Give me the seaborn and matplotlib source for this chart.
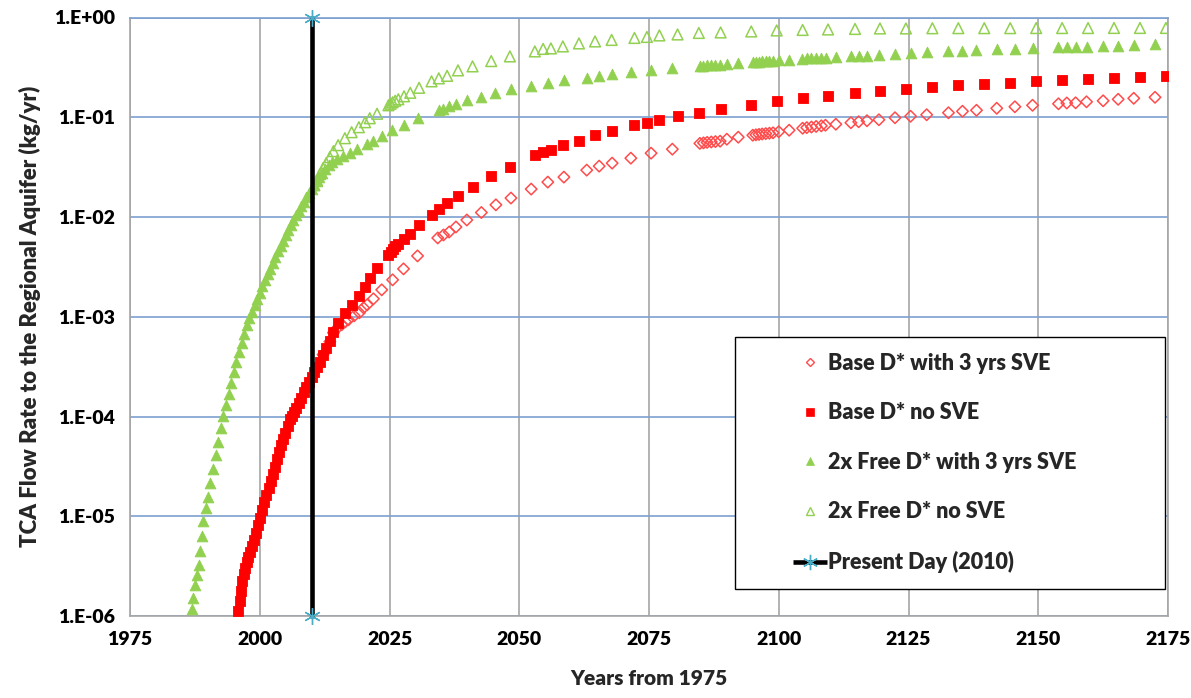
import numpy as np
import pandas as pd
import matplotlib
matplotlib.use("Agg")
import matplotlib.pyplot as plt
import seaborn as sns
from matplotlib.lines import Line2D
from matplotlib.legend_handler import HandlerBase
from matplotlib.ticker import FuncFormatter, NullLocator, FixedLocator

# ---------------- data (exponents are log10 of kg/yr) ----------------
base_sve_year = [
    2012.2, 2013.5, 2014.2, 2015.0, 2015.8, 2016.5, 2017.1, 2018.2, 2019.2, 2020.0,
    2020.7, 2021.9, 2023.5, 2025.6, 2027.7, 2030.4, 2034.3, 2035.4, 2036.5, 2037.8,
    2039.9, 2042.7, 2045.5, 2048.4, 2052.3, 2055.5, 2058.6, 2063.0, 2065.4, 2067.9,
    2071.5, 2075.4, 2079.5, 2084.8, 2085.5, 2086.2, 2087.0, 2087.8, 2088.7, 2090.0,
    2092.2, 2095.0, 2095.6, 2096.2, 2096.8, 2097.5, 2098.2, 2098.9, 2100.0, 2102.0,
    2104.6, 2105.4, 2106.3, 2107.2, 2108.2, 2109.0, 2111.0, 2113.9, 2115.4, 2117.0,
    2119.3, 2122.4, 2125.4, 2128.5, 2132.7, 2135.4, 2138.1, 2142.0, 2145.5, 2148.9,
    2153.9, 2155.5, 2157.2, 2159.3, 2162.5, 2165.4, 2168.4, 2172.5]
base_sve_exp = [
    -3.38, -3.25, -3.16, -3.11, -3.08, -3.05, -3.03, -2.99, -2.96, -2.91,
    -2.88, -2.82, -2.73, -2.63, -2.52, -2.39, -2.21, -2.18, -2.15, -2.10,
    -2.03, -1.955, -1.878, -1.81, -1.72, -1.65, -1.60, -1.53, -1.49, -1.46,
    -1.41, -1.36, -1.32, -1.262, -1.257, -1.252, -1.248, -1.244, -1.24, -1.22,
    -1.20, -1.18, -1.176, -1.172, -1.168, -1.164, -1.16, -1.156, -1.145, -1.13,
    -1.11, -1.104, -1.098, -1.092, -1.086, -1.08, -1.07, -1.055, -1.045, -1.035,
    -1.025, -1.005, -0.99, -0.975, -0.955, -0.94, -0.93, -0.91, -0.895, -0.88,
    -0.865, -0.857, -0.855, -0.845, -0.835, -0.82, -0.81, -0.80]

base_nosve_year = [
    1995.9, 1996.1, 1996.3, 1996.6, 1996.9, 1997.2, 1997.5, 1997.8, 1998.1, 1998.5,
    1998.9, 1999.3, 1999.7, 2000.1, 2000.5, 2000.9, 2001.3, 2001.7, 2002.1, 2002.5,
    2002.9, 2003.3, 2003.7, 2004.1, 2004.5, 2004.9, 2005.4, 2005.8, 2006.2, 2006.6,
    2007.0, 2007.5, 2008.0, 2008.5, 2009.0, 2009.5, 2010.0, 2010.5, 2011.0, 2011.6,
    2012.2, 2012.8, 2013.5, 2014.2, 2015.1, 2016.4, 2017.7, 2019.1, 2020.3, 2021.2,
    2022.6, 2024.8, 2025.2, 2025.6, 2026.1, 2026.7, 2027.8, 2029.0, 2030.7, 2033.1,
    2034.5, 2036.1, 2038.2, 2041.0, 2044.6, 2048.2, 2053.0, 2054.6, 2056.1, 2058.4,
    2061.5, 2064.6, 2067.8, 2072.2, 2074.6, 2077.0, 2080.5, 2084.6, 2088.8, 2094.7,
    2099.6, 2104.6, 2109.5, 2114.7, 2119.5, 2124.5, 2129.6, 2134.6, 2139.6, 2144.6,
    2149.6, 2154.6, 2159.6, 2164.6, 2169.6, 2174.6]
base_nosve_exp = [
    -5.95, -5.85, -5.75, -5.65, -5.58, -5.52, -5.46, -5.41, -5.36, -5.30,
    -5.24, -5.17, -5.09, -5.02, -4.94, -4.86, -4.79, -4.72, -4.65, -4.58,
    -4.51, -4.43, -4.36, -4.29, -4.23, -4.17, -4.10, -4.03, -3.99, -3.95,
    -3.91, -3.86, -3.81, -3.75, -3.70, -3.65, -3.60, -3.55, -3.50, -3.45,
    -3.38, -3.31, -3.24, -3.15, -3.06, -2.96, -2.88, -2.79, -2.70, -2.615,
    -2.51, -2.38, -2.35, -2.32, -2.29, -2.27, -2.22, -2.17, -2.08, -1.98,
    -1.92, -1.86, -1.79, -1.70, -1.59, -1.50, -1.38, -1.35, -1.33, -1.28,
    -1.24, -1.18, -1.14, -1.08, -1.055, -1.025, -0.99, -0.955, -0.92, -0.875,
    -0.84, -0.81, -0.785, -0.76, -0.74, -0.715, -0.70, -0.68, -0.665, -0.655,
    -0.64, -0.63, -0.62, -0.61, -0.60, -0.59]

free_sve_year = [
    1987.0, 1987.1, 1987.5, 1987.85, 1988.2, 1988.5, 1988.8, 1989.1, 1989.6,
    1990.0, 1990.5, 1991.0, 1991.5, 1992.0, 1992.5, 1993.0, 1993.5, 1994.0, 1994.5,
    1995.0, 1995.5, 1996.0, 1996.5, 1997.0, 1997.5, 1998.0, 1998.5, 1999.0, 1999.5,
    2000.0, 2000.5, 2001.0, 2001.5, 2002.0, 2002.5, 2003.0, 2003.5, 2004.0, 2004.5,
    2005.0, 2005.5, 2006.0, 2006.5, 2007.0, 2007.5, 2008.0, 2008.5, 2009.0, 2009.5,
    2010.0, 2010.5, 2011.0, 2011.5, 2012.0,
    2012.6, 2013.3, 2014.0, 2014.8, 2016.0, 2017.4, 2018.7, 2020.6, 2021.8, 2023.5,
    2025.5, 2027.7, 2030.4, 2034.6, 2035.4, 2036.5, 2037.8, 2039.9, 2042.6, 2045.4,
    2048.4, 2052.3, 2055.5, 2058.6, 2063.0, 2065.4, 2067.9, 2071.5, 2075.4, 2079.5,
    2084.8, 2085.5, 2086.2, 2087.0, 2087.8, 2088.7, 2090.0, 2092.2, 2095.0, 2095.6,
    2096.2, 2096.8, 2097.5, 2098.2, 2098.9, 2100.0, 2102.0, 2104.4, 2105.4, 2106.3,
    2107.2, 2108.2, 2109.2, 2111.0, 2113.9, 2115.4, 2117.0, 2119.3, 2122.4, 2125.4,
    2128.5, 2132.7, 2135.4, 2138.1, 2142.0, 2145.5, 2148.9, 2153.9, 2155.5, 2157.2,
    2159.3, 2162.5, 2165.4, 2168.4, 2172.5]
free_sve_exp = [
    -5.93, -5.82, -5.69, -5.59, -5.49, -5.35, -5.20, -5.05, -4.92,
    -4.81, -4.67, -4.53, -4.39, -4.26, -4.12, -3.99, -3.88, -3.77, -3.66,
    -3.55, -3.45, -3.35, -3.26, -3.17, -3.08, -3.01, -2.95, -2.88, -2.82,
    -2.76, -2.69, -2.63, -2.57, -2.52, -2.46, -2.40, -2.34, -2.29, -2.24,
    -2.18, -2.13, -2.08, -2.03, -1.98, -1.94, -1.89, -1.85, -1.80, -1.76,
    -1.72, -1.68, -1.64, -1.60, -1.56,
    -1.52, -1.48, -1.45, -1.42, -1.39, -1.36, -1.32, -1.27, -1.24, -1.19,
    -1.13, -1.08, -1.006, -0.93, -0.92, -0.89, -0.87, -0.83, -0.80, -0.76,
    -0.72, -0.69, -0.655, -0.63, -0.605, -0.585, -0.57, -0.55, -0.53, -0.51,
    -0.485, -0.483, -0.48, -0.478, -0.476, -0.474, -0.468, -0.46, -0.447, -0.445,
    -0.443, -0.441, -0.439, -0.437, -0.435, -0.43, -0.425, -0.413, -0.41, -0.408,
    -0.406, -0.404, -0.402, -0.40, -0.39, -0.387, -0.384, -0.378, -0.365, -0.357,
    -0.347, -0.337, -0.334, -0.328, -0.32, -0.314, -0.31, -0.298, -0.298, -0.297,
    -0.294, -0.288, -0.284, -0.278, -0.268]

free_nosve_year = [
    2010.5, 2011.0, 2011.6, 2012.2, 2012.8, 2013.5, 2014.2, 2015.1, 2016.4, 2017.7,
    2019.1, 2020.3, 2021.2, 2022.6, 2024.8, 2025.2, 2025.6, 2026.1, 2026.7, 2027.8,
    2029.0, 2030.7, 2033.1, 2034.5, 2036.1, 2038.2, 2041.0, 2044.6, 2048.2, 2053.0,
    2054.6, 2056.1, 2058.4, 2061.5, 2064.6, 2067.8, 2072.2, 2074.6, 2077.0, 2080.5,
    2084.6, 2088.8, 2094.7, 2099.6, 2104.6, 2109.5, 2114.7, 2119.5, 2124.5, 2129.6,
    2134.6, 2139.6, 2144.6, 2149.6, 2154.6, 2159.6, 2164.6, 2169.6, 2174.6]
free_nosve_exp = [
    -1.68, -1.63, -1.57, -1.51, -1.46, -1.40, -1.34, -1.28, -1.21, -1.15,
    -1.10, -1.05, -1.01, -0.965, -0.88, -0.865, -0.85, -0.835, -0.82, -0.79,
    -0.755, -0.705, -0.64, -0.61, -0.585, -0.53, -0.49, -0.437, -0.39, -0.34,
    -0.315, -0.31, -0.29, -0.26, -0.24, -0.225, -0.205, -0.195, -0.18, -0.17,
    -0.155, -0.15, -0.14, -0.13, -0.125, -0.12, -0.115, -0.11, -0.11, -0.108,
    -0.107, -0.107, -0.107, -0.106, -0.106, -0.106, -0.105, -0.105, -0.105]

present_year = [2010, 2010]
present_rate = [1e-6, 1.0]

labels = ["Base D* with 3 yrs SVE", "Base D* no SVE", "2x Free D* with 3 yrs SVE",
          "2x Free D* no SVE", "Present Day (2010)"]
x_ticks = [1975, 2000, 2025, 2050, 2075, 2100, 2125, 2150, 2175]
y_ticks = [1e-6, 1e-5, 1e-4, 1e-3, 1e-2, 1e-1, 1e0]

# ---------------- style ----------------
RED = "#FF0000"
RED_OPEN = "#FF4B4B"
GREEN = "#92D050"
STAR = "#4BACC6"
GRID_V = "#A6A6A6"
GRID_H = "#7DA0D0"
FONT = ["Lato", "DejaVu Sans"]
WEIGHT = "heavy"

sns.set_theme(style="white")
plt.rcParams['font.family'] = FONT
plt.rcParams['font.weight'] = WEIGHT

fig = plt.figure(figsize=(11.91, 6.98), dpi=100)
ax = fig.add_axes([130 / 1191, 1 - 616 / 698, (1168 - 130) / 1191, (616 - 17.5) / 698])

def frame(years, exps):
    return pd.DataFrame({"year": years, "rate": 10.0 ** np.asarray(exps)})

d_base_sve = frame(base_sve_year, base_sve_exp)
d_base_no = frame(base_nosve_year, base_nosve_exp)
d_free_sve = frame(free_sve_year, free_sve_exp)
d_free_no = frame(free_nosve_year, free_nosve_exp)

sns.scatterplot(data=d_base_sve, x="year", y="rate", ax=ax, marker="D", s=34,
                color=RED_OPEN, facecolor="none", edgecolor=RED_OPEN, linewidth=1.1,
                zorder=3, legend=False)
sns.scatterplot(data=d_base_no, x="year", y="rate", ax=ax, marker="s", s=52,
                color=RED, facecolor=RED, edgecolor=RED, linewidth=0.6,
                zorder=3, legend=False)
sns.scatterplot(data=d_free_sve, x="year", y="rate", ax=ax, marker="^", s=60,
                color=GREEN, facecolor=GREEN, edgecolor=GREEN, linewidth=0.6,
                zorder=3, legend=False)
sns.scatterplot(data=d_free_no, x="year", y="rate", ax=ax, marker="^", s=60,
                color=GREEN, facecolor="none", edgecolor=GREEN, linewidth=1.1,
                zorder=3, legend=False)
sns.lineplot(x=present_year, y=present_rate, ax=ax, estimator=None, sort=False,
             color="black", linewidth=3.3, marker=(6, 2, 0), markersize=12,
             markeredgecolor=STAR, markeredgewidth=1.0, zorder=5, clip_on=False,
             legend=False)

ax.set_yscale("log")
ax.set_xlim(1975, 2175)
ax.set_ylim(1e-6, 1.0)
ax.set_xticks(x_ticks)
ax.yaxis.set_major_locator(FixedLocator(y_ticks))
ax.yaxis.set_minor_locator(NullLocator())
ax.xaxis.set_minor_locator(NullLocator())
ax.yaxis.set_major_formatter(FuncFormatter(lambda v, p: f"1.E{int(round(np.log10(v))):+03d}"))

ax.grid(axis="x", color=GRID_V, linewidth=1.2)
ax.grid(axis="y", color=GRID_H, linewidth=1.2)
ax.set_axisbelow(True)
for side in ["left", "bottom", "right"]:
    ax.spines[side].set_color(GRID_V)
    ax.spines[side].set_linewidth(1.2)
ax.spines["top"].set_color(GRID_H)
ax.spines["top"].set_linewidth(1.2)

ax.tick_params(axis="both", length=0, labelsize=14, colors="black")
ax.tick_params(axis="x", pad=11)
ax.tick_params(axis="y", pad=11)
for t in ax.get_xticklabels() + ax.get_yticklabels():
    t.set_fontweight(WEIGHT)

ax.set_xlabel("Years from 1975", fontsize=15, fontweight=WEIGHT, labelpad=15)
ax.set_ylabel("TCA Flow Rate to the Regional Aquifer (kg/yr)", fontsize=16,
              fontweight=WEIGHT, labelpad=9)

# ---------------- legend ----------------
class RightMarkerHandler(HandlerBase):
    def create_artists(self, legend, orig_handle, xdescent, ydescent, width, height,
                       fontsize, trans):
        cx = -xdescent + width - 0.85 * fontsize
        cy = (height - ydescent) / 2.0
        arts = []
        if orig_handle.get_linestyle() not in ("None", "none", "", " "):
            ln = Line2D([cx - 0.8 * fontsize, cx + 0.8 * fontsize], [cy, cy],
                        color=orig_handle.get_color(), lw=orig_handle.get_linewidth(),
                        solid_capstyle="butt")
            ln.set_transform(trans)
            arts.append(ln)
        mk = Line2D([cx], [cy], ls="none", marker=orig_handle.get_marker(),
                    ms=orig_handle.get_markersize(),
                    mfc=orig_handle.get_markerfacecolor(),
                    mec=orig_handle.get_markeredgecolor(),
                    mew=orig_handle.get_markeredgewidth())
        mk.set_transform(trans)
        arts.append(mk)
        return arts

handles = [
    Line2D([], [], ls="none", marker="D", ms=4.5, mfc="none", mec=RED_OPEN, mew=1.0),
    Line2D([], [], ls="none", marker="s", ms=5.5, mfc=RED, mec=RED, mew=0.5),
    Line2D([], [], ls="none", marker="^", ms=6, mfc=GREEN, mec=GREEN, mew=0.5),
    Line2D([], [], ls="none", marker="^", ms=6, mfc="none", mec=GREEN, mew=1.0),
    Line2D([], [], color="black", lw=3.3, marker=(6, 2, 0), ms=11, mec=STAR, mew=1.0),
]
leg = ax.legend(handles, labels, handler_map={Line2D: RightMarkerHandler()},
                loc="upper left", bbox_to_anchor=(0.583, 0.466, 0.414, 0.0),
                mode="expand", borderaxespad=0.0, borderpad=0.72, labelspacing=1.33,
                handlelength=3.6, handletextpad=0.0, frameon=True, fancybox=False,
                framealpha=1.0, edgecolor="black",
                prop={"family": FONT, "weight": WEIGHT, "size": 15.5})
leg.get_frame().set_linewidth(1.0)
leg.set_zorder(10)

fig.savefig("out.png", dpi=100)
